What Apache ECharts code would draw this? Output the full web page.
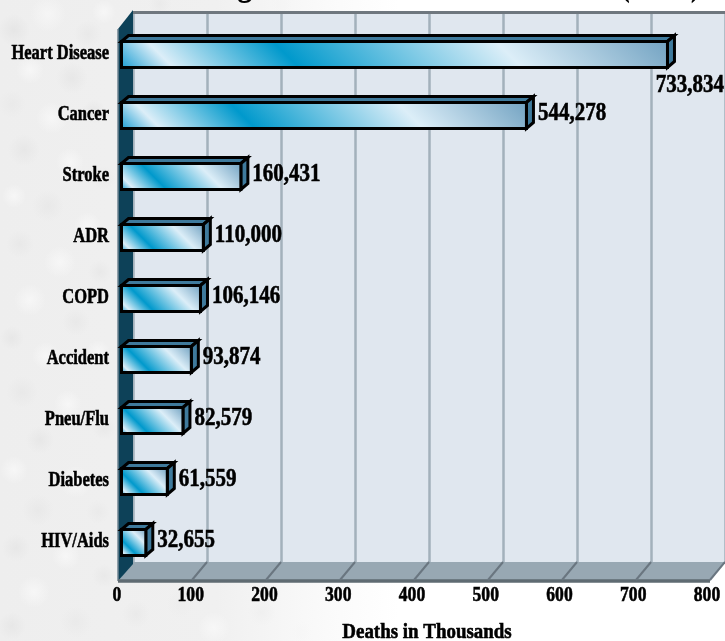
<!DOCTYPE html>
<html>
<head>
<meta charset="utf-8">
<style>html,body{margin:0;padding:0;background:#fff}#chart{width:725px;height:641px}</style>
<script src="https://cdn.jsdelivr.net/npm/echarts@6/dist/echarts.min.js"></script>
</head>
<body>
<div id="chart"></div>
<script>
const causes = ['Heart Disease','Cancer','Stroke','ADR','COPD','Accident','Pneu/Flu','Diabetes','HIV/Aids'];
const deaths = [733834,544278,160431,110000,106146,93874,82579,61559,32655];
const axisTicks = [0,100,200,300,400,500,600,700,800];
const chartTitle = 'Leading Causes of Death in the U.S. (1996)';
const axisTitle = 'Deaths in Thousands';

const FONT = '"Liberation Serif", serif';
const WALL_DX = 15, WALL_DY = 19;
const BAR_DX = 7, BAR_DY = 6;

// soft mottling of the stone backdrop: x, y, radius, grey level
const marbleSpots = [
  [14,30,16,226],[48,14,18,248],[88,34,14,230],[104,12,12,250],[30,70,14,250],[72,78,16,228],[12,104,14,232],
  [52,118,16,250],[94,112,12,228],[24,150,16,228],[70,162,14,250],[104,178,12,232],[14,196,12,250],[48,206,16,230],
  [88,226,14,250],[20,244,14,230],[60,262,16,250],[100,272,12,230],[30,300,16,250],[76,322,14,230],[12,338,12,228],
  [46,356,14,250],[98,352,12,250],[22,392,16,230],[68,404,14,250],[104,428,12,230],[40,440,14,228],[14,470,14,250],
  [76,482,16,250],[38,510,16,230],[98,512,12,232],[16,548,14,228],[66,556,14,250],[104,576,12,230],[34,592,16,250],
  [12,626,14,228],[76,622,16,232],[136,614,14,232],[180,604,14,236],[214,628,16,250],[262,612,14,238],[300,632,12,246],
  [160,4,12,232],[214,5,12,240],[280,4,12,244]
];
const spotShapes = marbleSpots.map(([x,y,r,g]) => ({
  type:'circle', z:-5, silent:true, shape:{cx:x,cy:y,r:r},
  style:{fill:new echarts.graphic.RadialGradient(0.5,0.5,0.5,[
    {offset:0,color:`rgba(${g},${g},${g},0.7)`},{offset:1,color:`rgba(${g},${g},${g},0)`}])}
}));

// diagonal sheen spanning the whole face, from its lower left to its upper right
function faceGradient(x0,y1,w,h){
  const run=(w+h)/2;
  return new echarts.graphic.LinearGradient(x0,y1,x0+run,y1-run,[
    {offset:0,color:'#1f9fd3'},{offset:0.09,color:'#dceef8'},{offset:0.31,color:'#0099cc'},
    {offset:0.70,color:'#dceef8'},{offset:1,color:'#73a3c2'}],true);
}
function scaledText(x,y,text,size,sx,align){
  return {type:'text',x:x,y:y,scaleX:sx,silent:true,
    style:{text:text,x:0,y:0,font:`bold ${size}px ${FONT}`,fill:'#000',stroke:'#000',lineWidth:0.6,
           align:align,verticalAlign:'middle'}};
}

const chart = echarts.init(document.getElementById('chart'));
chart.setOption({
  animation:false,
  backgroundColor:new echarts.graphic.LinearGradient(0,0,1,0,[
    {offset:0,color:'#eeeeee'},{offset:0.3,color:'#f0f0f0'},{offset:0.45,color:'#fafafa'},{offset:0.55,color:'#ffffff'},{offset:1,color:'#ffffff'}]),
  graphic:{elements:spotShapes.concat([
    {type:'text',z:-1,left:146,top:-34,silent:true,scaleX:0.8,
     style:{text:chartTitle,font:`bold 38px ${FONT}`,fill:'#000'}}
  ])},
  grid:[
    {left:133,top:12,width:595,height:550,show:true,backgroundColor:'#e0e7ef',borderWidth:0,containLabel:false},
    {left:117,top:12,width:590,height:568},
    {left:121.5,top:24,width:595.2,height:549}
  ],
  xAxis:[
    {gridIndex:0,type:'value',min:0,max:800,interval:100,position:'top',
     axisLine:{show:true,onZero:false,lineStyle:{color:'#6f777e',width:3}},axisTick:{show:false},axisLabel:{show:false},
     splitLine:{show:true,lineStyle:{color:'#a3b1bb',width:2.5}}},
    {gridIndex:1,type:'value',min:0,max:800,interval:100,show:false},
    {gridIndex:2,type:'value',min:0,max:800,interval:100,show:false}
  ],
  yAxis:[
    {gridIndex:0,type:'value',min:0,max:1,show:false},
    {gridIndex:1,type:'value',min:0,max:1,show:false},
    {gridIndex:2,type:'category',inverse:true,data:causes,show:false}
  ],
  series:[
    { // side wall and floor of the box
      type:'custom',xAxisIndex:0,yAxisIndex:0,coordinateSystem:'cartesian2d',clip:false,silent:true,z:3,
      data:[[0,800]],
      renderItem(params,api){
        const bl=api.coord([0,0]), tl=api.coord([0,1]), br=api.coord([800,0]);
        return {type:'group',children:[
          {type:'polygon',shape:{points:[[bl[0],bl[1]],[br[0],br[1]],[br[0]-WALL_DX,br[1]+WALL_DY],[bl[0]-WALL_DX,bl[1]+WALL_DY]]},
           style:{fill:'#98a8b3'}},
          {type:'polygon',shape:{points:[[tl[0],tl[1]-2],[bl[0],bl[1]+2],[bl[0]-WALL_DX,bl[1]+WALL_DY],[tl[0]-WALL_DX,tl[1]+WALL_DY-2]]},
           style:{fill:'#0d4158'}},
          {type:'line',shape:{x1:tl[0]-WALL_DX,y1:tl[1]+WALL_DY-2,x2:bl[0]-WALL_DX,y2:bl[1]+WALL_DY},
           style:{stroke:'#6f8592',lineWidth:1.5}},
          {type:'line',shape:{x1:bl[0]-WALL_DX,y1:bl[1]+WALL_DY,x2:br[0]-WALL_DX,y2:br[1]+WALL_DY},
           style:{stroke:'#5f6b72',lineWidth:3.5}}
        ]};
      }
    },
    { // slanted tick marks on the floor
      type:'custom',xAxisIndex:0,yAxisIndex:0,clip:false,silent:true,z:4,
      data:axisTicks.slice(1),encode:{x:0},
      renderItem(params,api){
        const p=api.coord([api.value(0),0]);
        return {type:'line',shape:{x1:p[0],y1:p[1],x2:p[0]-WALL_DX,y2:p[1]+WALL_DY-1},
                style:{stroke:'#6a7680',lineWidth:2}};
      }
    },
    { // tick labels along the front edge
      type:'custom',xAxisIndex:1,yAxisIndex:1,clip:false,silent:true,z:6,
      data:axisTicks,encode:{x:0},
      renderItem(params,api){
        const v=api.value(0), p=api.coord([v,0]);
        return scaledText(p[0],595,String(v),22,0.8,'center');
      }
    },
    { // the bars as boxes, with their value labels
      name:'Deaths',type:'custom',xAxisIndex:2,yAxisIndex:2,clip:false,z:5,
      data:deaths.map((d,i)=>[d/1000,i]),encode:{x:0,y:1},
      renderItem(params,api){
        const v=api.value(0), i=api.value(1);
        const o=api.coord([0,i]), e=api.coord([v,i]);
        const h=26, x0=o[0], x1=e[0], y0=o[1]-h/2, y1=o[1]+h/2;
        const edge={stroke:'#000',lineWidth:3,lineJoin:'miter'};
        const label=deaths[params.dataIndex].toLocaleString('en-US');
        const overflow=x1+11+70>725;
        return {type:'group',children:[
          {type:'polygon',shape:{points:[[x0,y0],[x0+BAR_DX,y0-BAR_DY],[x1+BAR_DX,y0-BAR_DY],[x1,y0]]},
           style:Object.assign({fill:'#3f7a9c'},edge)},
          {type:'polygon',shape:{points:[[x1,y0],[x1+BAR_DX,y0-BAR_DY],[x1+BAR_DX,y1-BAR_DY],[x1,y1]]},
           style:Object.assign({fill:'#3f7a9c'},edge)},
          {type:'rect',shape:{x:x0,y:y0,width:x1-x0,height:h},
           style:Object.assign({fill:faceGradient(x0,y1,x1-x0,h)},edge)},
          overflow ? scaledText(724,o[1]+31,label,25,0.84,'right')
                   : scaledText(x1+11.5,o[1]-1.5,label,25,0.84,'left')
        ]};
      }
    },
    { // category labels
      type:'custom',xAxisIndex:2,yAxisIndex:2,clip:false,silent:true,z:6,
      data:causes.map((c,i)=>[0,i]),encode:{x:0,y:1},
      renderItem(params,api){
        const p=api.coord([0,api.value(1)]);
        return scaledText(p[0]-12.5,p[1]-1,causes[params.dataIndex],22,0.75,'right');
      }
    },
    { // axis title, centred under the back wall
      type:'custom',xAxisIndex:0,yAxisIndex:0,clip:false,silent:true,z:6,
      data:[[400,0]],encode:{x:0,y:1},
      renderItem(params,api){
        const p=api.coord([400,0]);
        return scaledText(p[0]-2,632.5,axisTitle,22,0.86,'center');
      }
    }
  ]
});
</script>
</body>
</html>
